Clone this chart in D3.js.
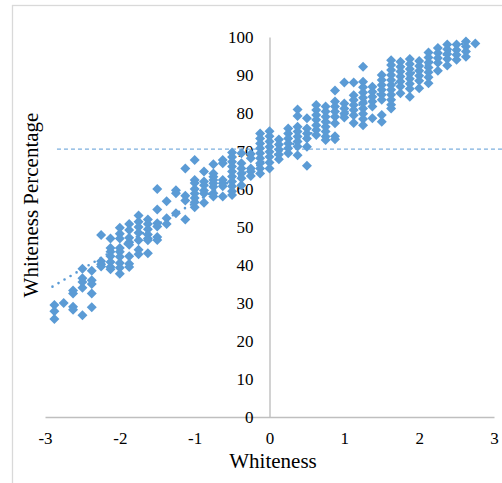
<!DOCTYPE html>
<html>
<head>
<meta charset="utf-8">
<script src="https://cdn.jsdelivr.net/npm/d3@7"></script>
<style>
  body { margin: 0; background: #fff; }
  svg text { font-family: "Liberation Serif", "Times New Roman", serif; fill: #000; }
</style>
</head>
<body>
<div id="d3Container"></div>
<script>
// x columns (Whiteness) and the y values (Whiteness Percentage) stacked in each
const colX = [-2.875, -2.75, -2.625, -2.5, -2.375, -2.25, -2.125, -2, -1.875, -1.75,
  -1.625, -1.5, -1.375, -1.25, -1.125, -1, -0.875, -0.75, -0.625, -0.5,
  -0.375, -0.25, -0.125, 0, 0.125, 0.25, 0.375, 0.5, 0.625, 0.75,
  0.875, 1, 1.125, 1.25, 1.375, 1.5, 1.625, 1.75, 1.875, 2,
  2.125, 2.25, 2.375, 2.5, 2.625, 2.75];
const colY = [
  [29.5, 27.8, 25.8],
  [30.0],
  [33.3, 32.5, 29.0, 28.2],
  [39.0, 36.5, 35.5, 34.0, 26.8],
  [38.5, 36.0, 35.0, 32.5, 28.9],
  [47.9, 41.0, 40.2, 39.6],
  [47.0, 44.5, 43.5, 42.3, 40.8, 39.5, 38.9],
  [49.8, 48.2, 47.0, 44.5, 43.5, 42.2, 40.5, 39.3, 37.7],
  [50.8, 49.2, 47.2, 46.0, 45.3, 42.3, 40.3, 39.5],
  [53.0, 51.4, 50.0, 48.5, 46.5, 44.0, 42.8],
  [52.0, 50.8, 49.4, 48.0, 47.0, 46.5, 43.1],
  [60.0, 54.6, 51.0, 50.1, 47.4, 46.6],
  [56.8, 52.3, 50.8],
  [59.7, 58.9, 53.6],
  [65.4, 58.2, 57.0, 52.0],
  [67.6, 62.4, 61.6, 60.0, 58.8, 57.6, 56.5, 55.2],
  [64.6, 62.0, 61.0, 59.6, 58.8, 56.4],
  [66.5, 64.1, 63.2, 62.4, 61.5, 60.6, 58.9, 58.0],
  [67.6, 66.8, 62.4, 61.5, 60.7, 58.0],
  [69.6, 68.4, 67.2, 65.9, 64.6, 63.3, 62.0, 60.7, 59.4, 58.4],
  [69.4, 66.8, 65.4, 64.1, 62.8, 61.0],
  [69.2, 68.1, 65.4, 64.6, 63.4],
  [74.6, 73.3, 72.0, 70.7, 69.4, 68.1, 66.8, 65.4, 64.1],
  [75.2, 73.9, 72.5, 71.1, 69.8, 68.5, 67.0, 65.4],
  [73.0, 71.7, 70.4, 69.1, 67.8],
  [75.9, 74.6, 73.3, 72.0, 70.7, 69.4],
  [80.9, 79.2, 76.4, 75.1, 73.8, 72.5, 71.2, 68.9],
  [78.6, 75.9, 74.6, 73.3, 71.1, 66.1],
  [82.1, 80.8, 79.5, 78.2, 76.8, 75.5, 74.2],
  [81.7, 80.4, 79.0, 77.7, 76.4, 75.1, 73.8, 72.9],
  [85.9, 83.0, 81.7, 80.4, 79.0, 77.3, 73.9, 73.1],
  [88.0, 82.5, 81.2, 79.9, 78.8],
  [88.0, 84.7, 83.4, 82.1, 80.8, 79.4, 77.4],
  [92.2, 88.2, 86.8, 85.4, 84.0, 82.6, 81.2, 79.8, 78.4, 76.8],
  [86.9, 85.6, 84.3, 83.0, 81.7, 78.6],
  [90.0, 88.7, 87.4, 86.1, 84.8, 83.5, 79.5, 77.7],
  [93.9, 92.6, 91.3, 90.0, 88.7, 87.4, 86.1, 84.8, 83.5, 82.2, 81.2],
  [93.5, 92.2, 90.9, 89.6, 88.3, 87.0, 85.2],
  [94.2, 92.9, 91.6, 90.3, 89.0, 87.7, 86.4, 84.3],
  [93.7, 92.4, 91.1, 89.8, 88.5, 86.5],
  [95.9, 94.6, 93.3, 92.0, 90.7, 89.4, 87.8],
  [97.1, 95.8, 94.5, 93.2, 91.1],
  [98.0, 96.8, 95.5, 94.2, 92.5],
  [98.0, 96.6, 95.3, 94.0],
  [98.8, 97.5, 96.2, 94.8],
  [98.3]
];
const xTicks = [-3, -2, -1, 0, 1, 2, 3];
const yTicks = [0, 10, 20, 30, 40, 50, 60, 70, 80, 90, 100];
// linear trendline ends and the dashed reference level
const trendX = [-2.9, 2.73];
const trendY = [34.3, 100];
const refY = 70.5;
const refX = [-2.84, 3.5];

const viz = () => {
  const w = 502;
  const h = 483;
  const blue = '#5b9bd5';
  const svg = d3.select('#d3Container').append('svg')
    .attr('width', w)
    .attr('height', h);

  // chart frame
  svg.append('rect')
    .attr('x', 12.5).attr('y', 5.5)
    .attr('width', 600).attr('height', 600)
    .attr('fill', 'none').attr('stroke', '#d9d9d9').attr('stroke-width', 1.3);

  const xScale = d3.scaleLinear().domain([-3, 3]).range([45, 494]);
  const yScale = d3.scaleLinear().domain([0, 100]).range([417, 37]);

  const xAxis = d3.axisBottom(xScale).tickValues(xTicks).tickSize(0).tickSizeOuter(0).tickPadding(15)
    .tickFormat(d3.format('d'));
  const gx = svg.append('g').attr('transform', `translate(0, ${yScale(0)})`).call(xAxis);

  const yAxis = d3.axisLeft(yScale).tickValues(yTicks).tickSize(0).tickSizeOuter(0).tickPadding(16);
  const gy = svg.append('g').attr('transform', `translate(${xScale(0)}, 0)`).call(yAxis);

  [gx, gy].forEach(g => {
    g.select('.domain').attr('stroke', '#bfbfbf').attr('stroke-width', 1.4);
    g.selectAll('text').style('font-size', '17px').attr('fill', '#000');
  });
  gx.selectAll('text').text(d => d < 0 ? '-' + Math.abs(d) : d);

  // dashed reference line
  svg.append('line')
    .attr('x1', xScale(refX[0])).attr('x2', xScale(refX[1]))
    .attr('y1', yScale(refY)).attr('y2', yScale(refY))
    .attr('stroke', blue).attr('stroke-width', 1).attr('stroke-dasharray', '4,3');

  // points
  let pts = [];
  colX.forEach((x, i) => colY[i].forEach(y => pts.push({x: x, y: y})));
  const diamond = d3.symbol().type(d3.symbolSquare).size(50);
  svg.append('g').selectAll('path')
    .data(pts)
    .enter()
    .append('path')
    .attr('d', diamond)
    .attr('transform', d => `translate(${xScale(d.x)}, ${yScale(d.y)}) rotate(45)`)
    .attr('fill', blue);

  // dotted trendline
  svg.append('line')
    .attr('x1', xScale(trendX[0])).attr('y1', yScale(trendY[0]))
    .attr('x2', xScale(trendX[1])).attr('y2', yScale(trendY[1]))
    .attr('stroke', blue).attr('stroke-width', 2.6)
    .attr('stroke-linecap', 'round').attr('stroke-dasharray', '0,7');

  // axis titles
  svg.append('text')
    .attr('x', 273).attr('y', 467.5)
    .attr('text-anchor', 'middle').style('font-size', '21px')
    .text('Whiteness');
  svg.append('text')
    .attr('transform', 'translate(38, 205) rotate(-90)')
    .attr('text-anchor', 'middle').style('font-size', '21px')
    .text('Whiteness Percentage');
}

viz()
</script>
</body>
</html>
